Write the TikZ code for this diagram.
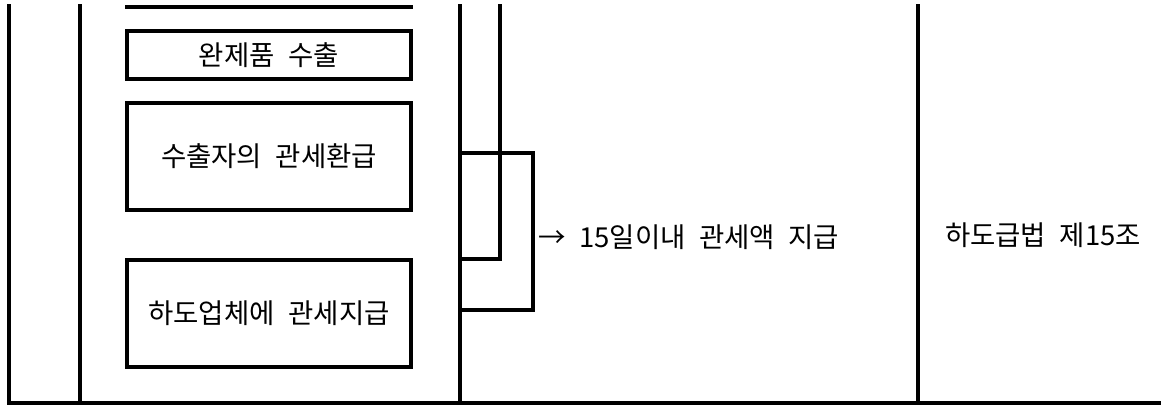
\documentclass[tikz,border=0pt]{standalone}
\usepackage{fontspec}
\setmainfont[WordSpace=2.2]{Noto Sans CJK KR}
\begin{document}
\begin{tikzpicture}[x=1pt,y=-1pt,
  rule/.style={line width=3.2pt,line cap=rect},
  boxnode/.style={draw,line width=3.2pt,minimum width=284pt,inner sep=0pt,font=\fontsize{27.5}{31}\selectfont},
  label/.style={inner sep=0pt,font=\fontsize{27.5}{31}\selectfont}]
\useasboundingbox (0,0) rectangle (1161,405);
% frame lines
\coordinate (L1t) at (9,6);   \coordinate (L1b) at (9,403);
\coordinate (L2t) at (80,6);  \coordinate (L2b) at (80,403);
\coordinate (L3t) at (460,6); \coordinate (L3b) at (460,403);
\coordinate (L4t) at (500,6); \coordinate (L4b) at (500,259);
\coordinate (L5t) at (918,6); \coordinate (L5b) at (918,403);
\coordinate (Bl) at (9,403);  \coordinate (Br) at (1161,403);
\coordinate (Tl) at (127,7);  \coordinate (Tr) at (411,7);
\draw[rule] (L1t) -- (L1b);
\draw[rule] (L2t) -- (L2b);
\draw[rule] (L3t) -- (L3b);
\draw[rule] (L5t) -- (L5b);
\draw[rule] (Bl) -- (Br);
\draw[rule] (Tl) -- (Tr);
% boxes
\node[boxnode,minimum height=48pt] (b1) at (269,55) {완제품 수출};
\node[boxnode,minimum height=107pt] (b2) at (269,156.5) {수출자의 관세환급};
\node[boxnode,minimum height=107pt] (b3) at (269,313.5) {하도업체에 관세지급};
% brackets
\coordinate (c1) at (460,153);
\coordinate (c2) at (460,310);
\coordinate (c3) at (460,259);
\draw[rule] (c1) -- (533,153) -- (533,310) -- (c2);
\draw[rule] (L4t) -- (L4b) -- (c3);
% texts
\node[label,anchor=west] (t1) at (538,237) {→ 15일이내 관세액 지급};
\node[label] (t2) at (1043,235) {하도급법 제15조};
\end{tikzpicture}
\end{document}
